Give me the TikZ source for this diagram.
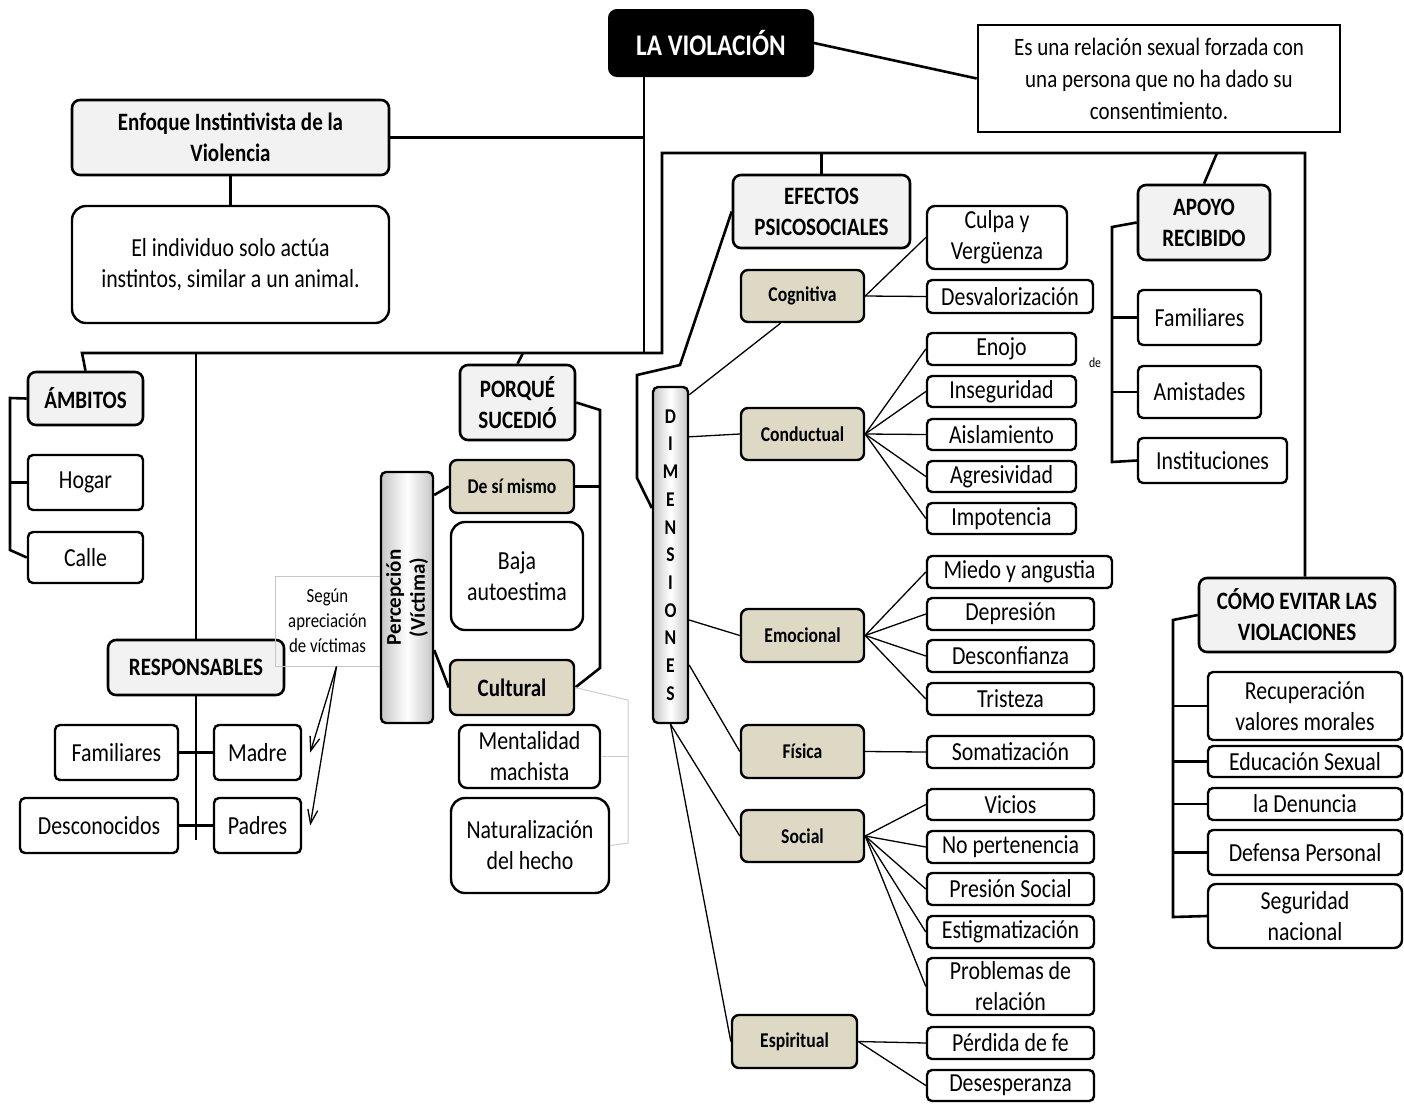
\documentclass[tikz,border=0pt]{standalone}
\usepackage{fontspec}
\setmainfont{Carlito}[FakeStretch=0.84]
\newfontfamily\percfont{Carlito}
\usetikzlibrary{arrows.meta}
\definecolor{hdrgray}{HTML}{F2F2F2}
\definecolor{tan}{HTML}{DDD9C4}

\begin{document}
\begin{tikzpicture}[
  x=1pt, y=-1pt,
  sz/.style 2 args={minimum width=#1pt, minimum height=#2pt},
  topbox/.style={draw, fill=black, text=white, rounded corners=8pt, line width=2pt, inner sep=0pt, font=\bfseries\fontsize{30}{34}\selectfont},
  defbox/.style={draw, line width=2.6pt, inner sep=0pt, align=center, font=\fontsize{25}{32}\selectfont},
  hdr/.style={draw, fill=hdrgray, rounded corners=8pt, line width=2.6pt, inner sep=0pt, align=center, font=\bfseries\fontsize{25}{31}\selectfont},
  dim/.style={draw, fill=tan, rounded corners=7pt, line width=2.4pt, inner sep=0pt, align=center, font=\bfseries\fontsize{21}{25}\selectfont},
  leaf/.style={draw, rounded corners=5pt, line width=2.4pt, inner sep=0pt, align=center, font=\fontsize{26}{31}\selectfont},
  plain/.style={leaf, rounded corners=14pt},
  bar/.style={draw, rounded corners=5pt, line width=2.4pt, inner sep=0pt, align=center, left color=gray!45, right color=gray!45, middle color=white},
  note/.style={draw=gray!45, line width=1pt, inner sep=0pt, align=center, font=\fontsize{20}{25}\selectfont},
  link/.style={line width=2.6pt},
  thin/.style={line width=1.3pt},
  faint/.style={draw=gray!40, line width=1pt}
]
  \useasboundingbox (0,0) rectangle (1404,1109);

  \node[topbox, sz={204}{66}] (top) at (711,43) {LA VIOLACIÓN};
  \node[defbox, sz={362}{107}] (defin) at (1159,78.5) {Es una relación sexual forzada con\\una persona que no ha dado su\\consentimiento.};
  \node[hdr, sz={317}{75}] (enfoque) at (230.5,137.5) {Enfoque Instintivista de la\\Violencia};
  \node[plain, sz={317}{117}] (individuo) at (230.5,264.5) {El individuo solo actúa\\instintos, similar a un animal.};

  \node[hdr, sz={115}{53}] (ambitos) at (85.5,398.5) {ÁMBITOS};
  \node[leaf, sz={115}{55}] (hogar) at (85.5,482.5) {Hogar};
  \node[leaf, sz={115}{51}] (calle) at (85.5,557.5) {Calle};

  \node[hdr, sz={176}{55}] (resp) at (196,667.5) {RESPONSABLES};
  \node[note, sz={105}{90}] (segun) at (327.5,621) {Según\\apreciación\\de víctimas};
  \node[leaf, sz={123}{55}] (familia) at (116.5,752.5) {Familiares};
  \node[leaf, sz={87}{55}] (madre) at (257.5,752.5) {Madre};
  \node[leaf, sz={158}{55}] (descon) at (99,825.5) {Desconocidos};
  \node[leaf, sz={87}{55}] (padres) at (257.5,825.5) {Padres};

  \node[hdr, sz={115}{75}] (porque) at (517.5,402.5) {PORQUÉ\\SUCEDIÓ};
  \node[bar, rotate=90, sz={251}{52}, font=\percfont\bfseries\fontsize{21}{24}\selectfont] (percep) at (407,597.5) {Percepción\\(Víctima)};
  \node[dim, sz={124}{53}] (desi) at (512,486.5) {De sí mismo};
  \node[plain, sz={132}{108}] (baja) at (517,576) {Baja\\autoestima};
  \node[dim, sz={124}{55}, font=\bfseries\fontsize{25}{30}\selectfont] (cultural) at (512,687.5) {Cultural};
  \node[leaf, rounded corners=8pt, sz={141}{63}] (mental) at (529.5,756.5) {Mentalidad\\machista};
  \node[plain, sz={158}{95}] (natural) at (530,845.5) {Naturalización\\del hecho};

  \node[hdr, sz={177}{73}] (efectos) at (821.5,211.5) {EFECTOS\\PSICOSOCIALES};
  \node[bar, sz={35}{336}, font=\bfseries\fontsize{21}{27.7}\selectfont] (dimen) at (670.5,555) {D\\I\\M\\E\\N\\S\\I\\O\\N\\E\\S};

  \node[dim, sz={123}{52}] (cog) at (802.5,296) {Cognitiva};
  \node[dim, sz={123}{52}] (cond) at (802.5,434) {Conductual};
  \node[dim, sz={123}{53}] (emoc) at (802.5,635.5) {Emocional};
  \node[dim, sz={123}{53}] (fis) at (802.5,751.5) {Física};
  \node[dim, sz={123}{52}] (soc) at (802.5,836) {Social};
  \node[dim, sz={125}{53}] (espi) at (794.5,1041.5) {Espiritual};

  \node[leaf, rounded corners=8pt, sz={140}{63}] (culpa) at (997,237.5) {Culpa y\\Vergüenza};
  \node[leaf, sz={166}{33}] (desval) at (1010,296.5) {Desvalorización};
  \node[leaf, sz={149}{32}] (enojo) at (1001.5,349) {Enojo};
  \node[leaf, sz={149}{31}] (inseg) at (1001.5,391.5) {Inseguridad};
  \node[leaf, sz={149}{31}] (aisla) at (1001.5,434.5) {Aislamiento};
  \node[leaf, sz={149}{31}] (agres) at (1001.5,476.5) {Agresividad};
  \node[leaf, sz={149}{31}] (impot) at (1001.5,518.5) {Impotencia};
  \node[font=\fontsize{14}{14}\selectfont] (de) at (1095,363) {de};
  \node[leaf, sz={185}{32}] (miedo) at (1019.5,572) {Miedo y angustia};
  \node[leaf, sz={167}{32}] (depre) at (1010.5,614) {Depresión};
  \node[leaf, sz={167}{32}] (desconf) at (1010.5,656) {Desconfianza};
  \node[leaf, sz={167}{32}] (triste) at (1010.5,699) {Tristeza};
  \node[leaf, sz={167}{32}] (somat) at (1010.5,752) {Somatización};
  \node[leaf, sz={167}{31}] (vicios) at (1010.5,804.5) {Vicios};
  \node[leaf, sz={167}{32}] (noper) at (1010.5,847) {No pertenencia};
  \node[leaf, sz={167}{32}] (presion) at (1010.5,889) {Presión Social};
  \node[leaf, sz={167}{32}] (estig) at (1010.5,932) {Estigmatización};
  \node[leaf, sz={167}{57}] (proble) at (1010.5,986.5) {Problemas de\\relación};
  \node[leaf, sz={167}{32}] (perdida) at (1010.5,1043) {Pérdida de fe};
  \node[leaf, sz={167}{31}] (desesp) at (1010.5,1085.5) {Desesperanza};

  \node[hdr, sz={132}{75}] (apoyo) at (1204,222.5) {APOYO\\RECIBIDO};
  \node[leaf, sz={123}{55}] (famil) at (1199.5,317.5) {Familiares};
  \node[leaf, sz={123}{52}] (amist) at (1199.5,392) {Amistades};
  \node[leaf, sz={149}{45}] (instit) at (1212.5,460.5) {Instituciones};

  \node[hdr, sz={196}{74}] (como) at (1297,615) {CÓMO EVITAR LAS\\VIOLACIONES};
  \node[leaf, sz={194}{68}] (recup) at (1305,706) {Recuperación\\valores morales};
  \node[leaf, sz={194}{31}] (educ) at (1305,761.5) {Educación Sexual};
  \node[leaf, sz={194}{32}] (denun) at (1305,804) {la Denuncia};
  \node[leaf, sz={194}{45}] (defen) at (1305,852.5) {Defensa Personal};
  \node[leaf, rounded corners=8pt, sz={194}{64}] (segur) at (1305,916) {Seguridad\\nacional};

  \coordinate (trunk) at (644,353);
  \coordinate (hL) at (82,353);
  \coordinate (hR) at (662,353);
  \coordinate (tL) at (662,153);
  \coordinate (tR) at (1305,153);
  \coordinate (ap) at (1217,153);
  \coordinate (pq) at (523,353);
  \coordinate (rb) at (196,840);
  \coordinate (ab1) at (10,398);
  \coordinate (ab2) at (10,550);
  \coordinate (pb1) at (600,410);
  \coordinate (pb2) at (600,668);
  \coordinate (g1) at (628,700);
  \coordinate (g2) at (628,843);
  \coordinate (e1) at (680,365);
  \coordinate (e2) at (637,375);
  \coordinate (e3) at (637,478);
  \coordinate (ap1) at (1112,227);
  \coordinate (ap2) at (1112,462);
  \coordinate (cb1) at (1173,620);
  \coordinate (cb2) at (1173,917);

  \draw[link] (top.east) -- (defin.west);
  \draw[link] (top.south -| trunk) -- (trunk);
  \draw[link] (enfoque.east) -- (enfoque.east -| trunk);
  \draw[link] (enfoque) -- (individuo);
  \draw[link] (ambitos.north) -- (hL) -- (hR) -- (tL) -- (tR) -- (tR |- como.north);
  \draw[link] (efectos.north) -- (efectos.north |- tL);
  \draw[link] (apoyo.north) -- (ap);
  \draw[link] (porque.north) -- (pq);
  \draw[link] (resp.north) -- (resp.north |- hL);
  \draw[link] (resp.south) -- (rb);
  \draw[link] (familia) -- (madre);
  \draw[link] (descon) -- (padres);

  \draw[link] (ambitos.west) -- (ab1) -- (ab2) -- (calle.west);
  \draw[link] (hogar.west) -- (hogar.west -| ab1);

  \draw[thin, -{Straight Barb[length=14pt,width=10pt]}] ([xshift=9pt]segun.south) -- ([xshift=8pt]madre.east);
  \draw[thin, -{Straight Barb[length=14pt,width=10pt]}] ([xshift=9pt]segun.south) -- ([xshift=8pt]padres.east);

  \draw[link] (porque.east) -- (pb1) -- (pb2) -- (cultural.east);
  \draw[link] (desi.east) -- (desi.east -| pb1);
  \draw[link] ([yshift=102.5pt]percep.south) -- (desi.west);
  \draw[link] ([yshift=-52.5pt]percep.south) -- (cultural.west);
  \draw[faint] (cultural.east) -- (g1) -- (g2) -- (natural.east);
  \draw[faint] (mental.east) -- (mental.east -| g1);

  \draw[link] (efectos.west) -- (e1) -- (e2) -- (e3) -- ([yshift=47pt]dimen.west);
  \draw[thin] ([yshift=-9pt]dimen.north east) -- ([xshift=-22pt]cog.south);
  \draw[thin] ([yshift=-51pt]dimen.north east) -- (cond.west);
  \draw[thin] ([yshift=-65pt]dimen.east) -- (emoc.west);
  \draw[thin] ([yshift=-110pt]dimen.east) -- (fis.west);
  \draw[thin] (dimen.south) -- (soc.west);
  \draw[thin] (dimen.south) -- (espi.west);

  \draw[thin] (cog.east) -- (culpa.west);
  \draw[thin] (cog.east) -- (desval.west);
  \draw[thin] (cond.east) -- (enojo.west);
  \draw[thin] (cond.east) -- (inseg.west);
  \draw[thin] (cond.east) -- (aisla.west);
  \draw[thin] (cond.east) -- (agres.west);
  \draw[thin] (cond.east) -- (impot.west);
  \draw[thin] (emoc.east) -- (miedo.west);
  \draw[thin] (emoc.east) -- (depre.west);
  \draw[thin] (emoc.east) -- (desconf.west);
  \draw[thin] (emoc.east) -- (triste.west);
  \draw[thin] (fis.east) -- (somat.west);
  \draw[thin] (soc.east) -- (vicios.west);
  \draw[thin] (soc.east) -- (noper.west);
  \draw[thin] (soc.east) -- (presion.west);
  \draw[thin] (soc.east) -- (estig.west);
  \draw[thin] (soc.east) -- (proble.west);
  \draw[thin] (espi.east) -- (perdida.west);
  \draw[thin] (espi.east) -- (desesp.west);

  \draw[link] (apoyo.west) -- (ap1) -- (ap2) -- (instit.west);
  \draw[link] (famil.west) -- (famil.west -| ap1);
  \draw[link] (amist.west) -- (amist.west -| ap1);

  \draw[link] (como.west) -- (cb1) -- (cb2) -- (segur.west);
  \draw[link] (recup.west) -- (recup.west -| cb1);
  \draw[link] (educ.west) -- (educ.west -| cb1);
  \draw[link] (denun.west) -- (denun.west -| cb1);
  \draw[link] (defen.west) -- (defen.west -| cb1);
\end{tikzpicture}
\end{document}
